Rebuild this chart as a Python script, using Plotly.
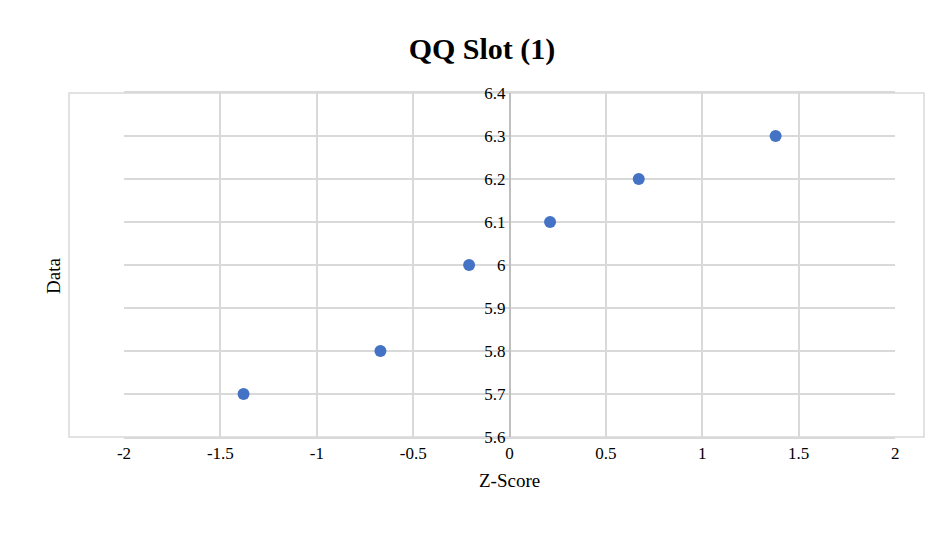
import plotly.graph_objects as go

z_scores = [-1.38, -0.67, -0.21, 0.21, 0.67, 1.38]
data_vals = [5.7, 5.8, 6.0, 6.1, 6.2, 6.3]
x_ticks = [-2, -1.5, -1, -0.5, 0, 0.5, 1, 1.5, 2]
x_labels = ["-2", "-1.5", "-1", "-0.5", "0", "0.5", "1", "1.5", "2"]

font = "Liberation Serif"
l, r, t, b = 61, 32, 85, 105
W, H = 948, 534
dom = (l / W, 1 - r / W)
zero_pos = dom[0] + (dom[1] - dom[0]) * 0.5

fig = go.Figure(go.Scatter(
    x=z_scores, y=data_vals, mode="markers",
    marker=dict(color="#4472C4", size=12),
))

fig.update_layout(
    width=W, height=H,
    margin=dict(l=l, r=r, t=t, b=b, autoexpand=False),
    paper_bgcolor="white", plot_bgcolor="white",
    font=dict(family=font, size=17, color="black"),
    title=dict(text="<b>QQ Slot (1)</b>", x=0.5, xanchor="center",
               y=1 - 40 / H, yanchor="middle",
               font=dict(family=font, size=30, color="black")),
    showlegend=False,
    xaxis=dict(range=[-2, 2], tickvals=x_ticks, ticktext=x_labels,
               domain=list(dom), automargin=False,
               showgrid=True, gridcolor="#d9d9d9", gridwidth=1.5,
               showline=True, mirror=True, linecolor="#d9d9d9", linewidth=1.5,
               zeroline=False, ticks="", tickfont=dict(size=17),
               title=dict(text="Z-Score", font=dict(size=19), standoff=12)),
    yaxis=dict(range=[5.6, 6.4], dtick=0.1, anchor="free", position=zero_pos,
               automargin=False,
               showgrid=True, gridcolor="#d9d9d9", gridwidth=1.5,
               showline=True, linecolor="#bfbfbf", linewidth=1.5,
               zeroline=False, ticks="", tickfont=dict(size=17)),
    shapes=[dict(type="rect", xref="paper", yref="paper", x0=0, x1=1, y0=0, y1=1,
                 line=dict(color="#d9d9d9", width=1.5), layer="below")],
    annotations=[dict(text="Data", textangle=-90, showarrow=False,
                      xref="paper", yref="paper",
                      x=(45 - l) / (W - l - r), y=1 - (268 - t) / (H - t - b),
                      xanchor="center", yanchor="middle", font=dict(size=19))],
)

fig.write_html("out.html")
